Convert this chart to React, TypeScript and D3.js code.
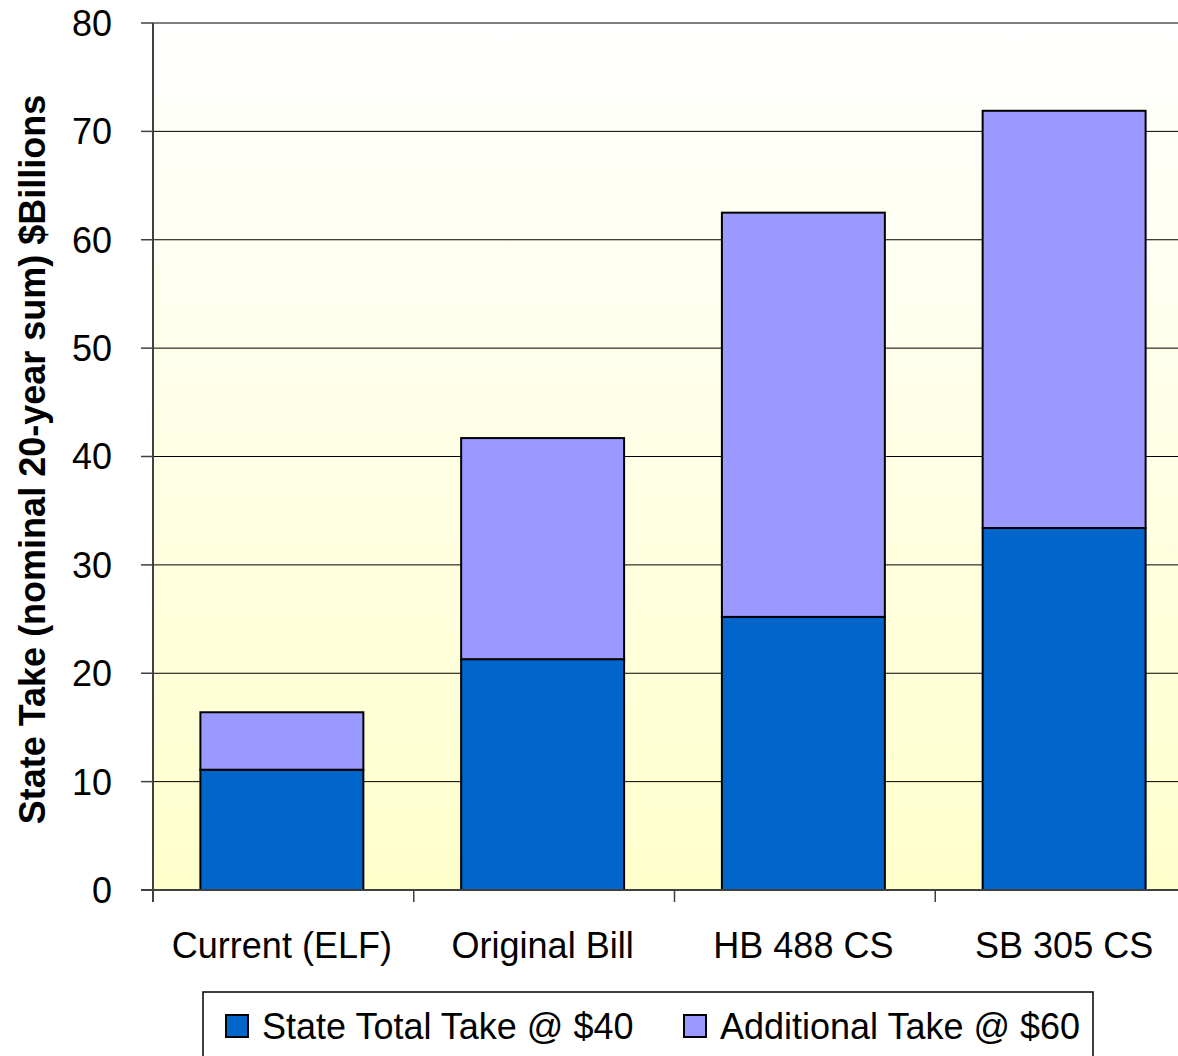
import React from "react";
import * as d3 from "d3";

const categories = ["Current (ELF)", "Original Bill", "HB 488 CS", "SB 305 CS"];
const stateTotal40 = [11.1, 21.3, 25.2, 33.4];
const additional60 = [5.3, 20.4, 37.3, 38.5];
const yTicks = [0, 10, 20, 30, 40, 50, 60, 70, 80];
const seriesNames = ["State Total Take @ $40", "Additional Take @ $60"];
const seriesColors = ["#0066CC", "#9999FF"];

const W = 1178;
const H = 1056;
const left = 153;
const right = 1196;
const top = 23;
const bottom = 890;

export default function App() {
  const x = d3.scaleBand<string>().domain(categories).range([left, right]).paddingInner(0.375).paddingOuter(0.1875);
  const y = d3.scaleLinear().domain([0, 80]).range([bottom, top]);
  const band = (right - left) / categories.length;
  const stack = d3.stack<number>().keys(["a", "b"]).value((i, k) => (k === "a" ? stateTotal40[i] : additional60[i]))(
    categories.map((_, i) => i) as any
  );
  const font = "'Liberation Sans', Arial, sans-serif";
  return (
    <svg width={W} height={H} style={{ position: "absolute", left: 0, top: 0 }} fontFamily={font}>
      <defs>
        <linearGradient id="bg" x1="0" y1="0" x2="0" y2="1">
          <stop offset="0" stopColor="#FFFFFF" />
          <stop offset="1" stopColor="#FFFFCC" />
        </linearGradient>
      </defs>
      <rect x={left} y={top} width={right - left} height={bottom - top} fill="url(#bg)" />
      {yTicks.slice(1).map((t) => (
        <line key={t} x1={left} x2={right} y1={y(t)} y2={y(t)} stroke={t === 80 ? "#808080" : "#000"} strokeWidth={t === 80 ? 2 : 1} />
      ))}
      {stack.map((s, si) =>
        s.map((d, i) => (
          <rect
            key={si + "-" + i}
            x={x(categories[i])! - 1.5}
            y={y(d[1])}
            width={x.bandwidth()}
            height={y(d[0]) - y(d[1])}
            fill={seriesColors[si]}
            stroke="#000"
            strokeWidth={2}
          />
        ))
      )}
      <line x1={left} x2={left} y1={top} y2={bottom + 12} stroke="#404040" strokeWidth={2} />
      <line x1={left - 12} x2={right} y1={bottom} y2={bottom} stroke="#404040" strokeWidth={2} />
      {yTicks.map((t) => (
        <g key={t}>
          <line x1={left - 12} x2={left} y1={y(t)} y2={y(t)} stroke="#404040" strokeWidth={1.5} />
          <text x={112} y={y(t)} dy="0.36em" textAnchor="end" fontSize={36}>
            {t}
          </text>
        </g>
      ))}
      {categories.map((c, i) => (
        <g key={c}>
          <line x1={left + band * i} x2={left + band * i} y1={bottom} y2={bottom + 12} stroke="#404040" strokeWidth={1.5} />
          <text x={x(c)! + x.bandwidth() / 2 - 1.5} y={958} textAnchor="middle" fontSize={36}>
            {c}
          </text>
        </g>
      ))}
      <text
        transform={`translate(45, ${(93 + 826) / 2}) rotate(-90)`}
        textAnchor="middle"
        fontSize={36}
        fontWeight="bold"
      >
        State Take (nominal 20-year sum) $Billions
      </text>
      <rect x={203} y={992} width={890} height={80} fill="#fff" stroke="#000" strokeWidth={1.5} />
      {seriesNames.map((n, i) => (
        <g key={n} transform={`translate(${[226, 684][i]}, 0)`}>
          <rect x={0} y={1015} width={22} height={22} fill={seriesColors[i]} stroke="#000" strokeWidth={2} />
          <text x={36} y={1039} fontSize={36}>
            {n}
          </text>
        </g>
      ))}
    </svg>
  );
}
